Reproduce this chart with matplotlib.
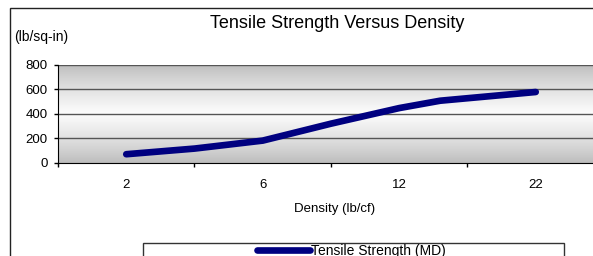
import numpy as np
import matplotlib
matplotlib.use("Agg")
import matplotlib.pyplot as plt
from matplotlib.patches import Rectangle

# ---- data ----
densities = [2, 4, 6, 9, 12, 15, 22]
tensile = [69, 115, 180, 318, 445, 505, 576]
labeled_densities = [2, 6, 12, 22]
tick_labels = ["2", "6", "12", "22"]
y_ticks = [0, 200, 400, 600, 800]
series_name = "Tensile Strength (MD)"

plt.rcParams['font.family'] = ['Liberation Sans', 'DejaVu Sans']

W, H = 593, 256
fig = plt.figure(figsize=(W / 100, H / 100), dpi=100)

def fx(px):
    return px / W

def fy(py):
    return 1 - py / H

# chart area border (extends beyond the cropped image)
fig.patches.append(Rectangle((fx(10), fy(300)), fx(700), fy(8) - fy(300),
                             transform=fig.transFigure, fill=False,
                             edgecolor='#222222', lw=1.0))

ax = fig.add_axes([fx(58), fy(162.7), fx(604) - fx(58), fy(64.5) - fy(162.7)])

label_pos = np.arange(len(labeled_densities)) + 0.5
x = np.interp(densities, labeled_densities, label_pos)

# gradient background (gray edges, white center)
t = np.linspace(0, 1, 256)
shade = 0.73 + 0.26 * (1 - np.abs(2 * t - 1)) ** 0.8
ax.imshow(shade[:, None], extent=[0, len(labeled_densities), 0, 800],
          aspect='auto', cmap='gray', vmin=0, vmax=1, origin='lower', zorder=0)

ax.set_xlim(0, len(labeled_densities))
ax.set_ylim(0, 800)

for yv in y_ticks[1:]:
    ax.axhline(yv, color='#555555', lw=1.0, zorder=1)

line, = ax.plot(x, tensile, color='#000080', lw=4.8, solid_capstyle='round',
                solid_joinstyle='round', zorder=3, label=series_name)

ax.set_yticks(y_ticks)
ax.set_yticklabels([str(v) for v in y_ticks], fontsize=9.5)
ax.tick_params(axis='y', direction='out', length=3, width=1, pad=4.5, color='black')

ax.set_xticks(np.arange(len(labeled_densities) + 1))
ax.set_xticklabels([])
ax.set_xticks(label_pos, minor=True)
ax.set_xticklabels(tick_labels, minor=True, fontsize=9.5)
ax.tick_params(axis='x', which='major', direction='out', length=3, width=1, color='black')
ax.tick_params(axis='x', which='minor', length=0, pad=11.5)

for s in ['top', 'right']:
    ax.spines[s].set_visible(False)
ax.spines['left'].set_color('black')
ax.spines['bottom'].set_color('black')

fig.text(fx(337), fy(23), "Tensile Strength Versus Density", fontsize=13,
         ha='center', va='center')
fig.text(fx(14), fy(37.5), "(lb/sq-in)", fontsize=10, ha='left', va='center')
fig.text(fx(335), fy(209), "Density (lb/cf)", fontsize=9.5, ha='center', va='center')

# legend box
fig.patches.append(Rectangle((fx(143), fy(300)), fx(564) - fx(143), fy(243.3) - fy(300),
                             transform=fig.transFigure, facecolor='white',
                             edgecolor='#333333', lw=1.0))
fig.legend(handles=[line], loc='center left',
           bbox_to_anchor=(fx(257), fy(250.5)), frameon=False,
           fontsize=10, handlelength=3.8, handletextpad=0.1,
           borderpad=0, borderaxespad=0)

fig.savefig("out.png", dpi=100)
